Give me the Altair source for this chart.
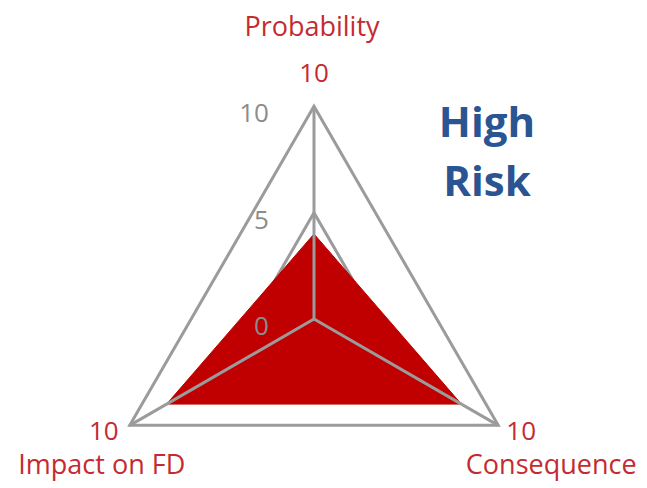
import altair as alt
import pandas as pd

# ---- data ----
categories = ["Probability", "Consequence", "Impact on FD"]
risk_values = [4, 8, 8]
grid_levels = [5, 10]
tick_values = [0, 5, 10]
max_value = 10
badge_lines = ["High", "Risk"]

# ---- style ----
RED = "#c00000"
LABEL_RED = "#c42b30"
GRID = "#9b9b9b"
TICK_GRAY = "#8c8c8c"
BLUE = "#2b5592"
FONT = "Open Sans"

n = len(categories)
axes_df = pd.DataFrame({
    "axis": categories,
    "idx": list(range(n)),
    "value": risk_values,
    "maxv": [max_value] * n,
})
grid_df = pd.DataFrame([{"level": lv, "idx": i} for lv in grid_levels for i in range(n)])
ticks_df = pd.DataFrame({"tick": tick_values})

ANG = f"(PI/2 - 2*PI*datum.idx/{n})"
xs = alt.Scale(domain=[-14.386, 15.280], nice=False, zero=False)
ys = alt.Scale(domain=[-7.757, 14.622], nice=False, zero=False)

grid = alt.Chart(grid_df).transform_calculate(
    gx=f"datum.level*cos({ANG})", gy=f"datum.level*sin({ANG})"
).mark_line(interpolate="linear-closed", color=GRID, strokeWidth=3).encode(
    x=alt.X("gx:Q", scale=xs, axis=None),
    y=alt.Y("gy:Q", scale=ys, axis=None),
    detail="level:N",
    order="idx:O",
)

fill = alt.Chart(axes_df).transform_calculate(
    px=f"datum.value*cos({ANG})", py=f"datum.value*sin({ANG})"
).mark_line(interpolate="linear-closed", filled=True, fill=RED, stroke=RED, strokeWidth=1).encode(
    x=alt.X("px:Q", scale=xs, axis=None),
    y=alt.Y("py:Q", scale=ys, axis=None),
    order="idx:O",
)

spokes = alt.Chart(axes_df).transform_calculate(
    z="0", ex=f"datum.maxv*cos({ANG})", ey=f"datum.maxv*sin({ANG})"
).mark_rule(color=GRID, strokeWidth=3).encode(
    x=alt.X("z:Q", scale=xs, axis=None),
    y=alt.Y("z:Q", scale=ys, axis=None),
    x2="ex:Q",
    y2="ey:Q",
)

tick_labels = alt.Chart(ticks_df).transform_calculate(z="0").mark_text(
    align="right", baseline="middle", dx=-45, dy=8, color=TICK_GRAY, fontSize=26, font=FONT
).encode(
    x=alt.X("z:Q", scale=xs, axis=None),
    y=alt.Y("tick:Q", scale=ys, axis=None),
    text="tick:Q",
)

# label offsets (px) per axis: (dx, dy) for max value, (dx, dy) for name
offsets = {0: ((0, -24), (-2, -70)), 1: ((23, 15), (53, 49)), 2: ((-26, 15), (-28, 49))}
vertex_layers = []
for i in range(n):
    (mdx, mdy), (ndx, ndy) = offsets[i]
    base = alt.Chart(axes_df).transform_filter(f"datum.idx == {i}").transform_calculate(
        ex=f"datum.maxv*cos({ANG})", ey=f"datum.maxv*sin({ANG})"
    )
    enc = dict(x=alt.X("ex:Q", scale=xs, axis=None), y=alt.Y("ey:Q", scale=ys, axis=None))
    vertex_layers.append(base.mark_text(
        align="center", baseline="alphabetic", dx=mdx, dy=mdy, color=LABEL_RED, fontSize=26, font=FONT
    ).encode(text="maxv:Q", **enc))
    vertex_layers.append(base.mark_text(
        align="center", baseline="alphabetic", dx=ndx, dy=ndy, color=LABEL_RED, fontSize=27, font=FONT
    ).encode(text="axis:N", **enc))

badge = alt.Chart(pd.DataFrame({"k": [0]})).mark_text(
    align="center", baseline="alphabetic", color=BLUE, fontSize=42, fontWeight="bold",
    font=FONT, lineHeight=59
).encode(
    x=alt.value(479), y=alt.value(129), text=alt.value(badge_lines)
)

chart = alt.layer(grid, fill, spokes, tick_labels, *vertex_layers, badge).properties(
    width=631, height=476, padding=0, autosize="none"
).configure_view(stroke=None)

chart.save("out.html", embed_options={"renderer": "svg", "actions": False})
